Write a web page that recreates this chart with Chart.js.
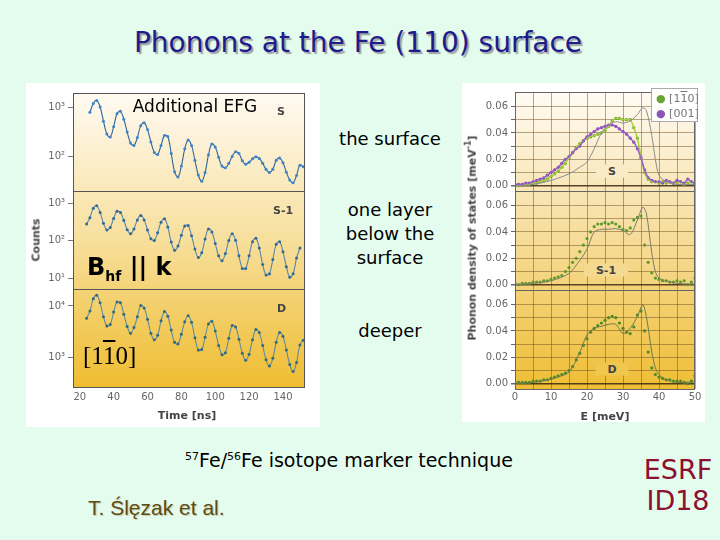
<!DOCTYPE html>
<html>
<head>
<meta charset="utf-8">
<script src="https://cdn.jsdelivr.net/npm/chart.js@4.4.1/dist/chart.umd.min.js"></script>
<style>
  body { margin: 0; width: 720px; height: 540px; background: #e4fcee; position: relative; overflow: hidden; font-family: "DejaVu Sans", sans-serif; }
  .abs { position: absolute; white-space: nowrap; }
  .c { transform: translate(-50%, -50%); }
  .box { background: #fff; }
  .note { font-size: 18px; color: #000; }
  .tag { font-size: 11px; font-weight: bold; color: #444; }
  .rot { transform: translate(-50%, -50%) rotate(-90deg); }
  canvas { position: absolute; }
</style>
</head>
<body>
<div class="abs box" style="left:26px;top:83px;width:294px;height:344px;"></div>
<div class="abs box" style="left:462px;top:83px;width:243px;height:339px;"></div>
<canvas id="beatChart" width="294" height="344" style="left:26px;top:83px;"></canvas>
<canvas id="dosChart" width="243" height="339" style="left:462px;top:83px;"></canvas>

<div class="abs c" style="left:358px;top:42px;font-size:28px;color:#1c1c8c;text-shadow:2px 2px 1px #a0a0a0;">Phonons at the Fe (110) surface</div>

<div class="abs c note" style="left:195px;top:106px;font-size:17px;">Additional EFG</div>
<div class="abs c note" style="left:390px;top:138px;">the surface</div>
<div class="abs c note" style="left:390px;top:234px;text-align:center;line-height:24px;">one layer<br>below the<br>surface</div>
<div class="abs c note" style="left:390px;top:330px;">deeper</div>
<div class="abs" style="left:87px;top:253px;font-size:24px;font-weight:bold;color:#000;">B<sub style="font-size:14px;">hf</sub> || k</div>
<div class="abs" style="left:83px;top:342px;font-size:25px;font-family:'Liberation Serif',serif;color:#000;">[1<span style="text-decoration:overline;">1</span>0]</div>

<div class="abs tag" style="left:277px;top:105px;">S</div>
<div class="abs tag" style="left:273px;top:204px;">S-1</div>
<div class="abs tag" style="left:277px;top:302px;">D</div>
<div class="abs c tag" style="left:612px;top:171px;background:#f8ebc6;padding:0 12px;">S</div>
<div class="abs c tag" style="left:606px;top:270px;background:#f4da90;padding:0 12px;">S-1</div>
<div class="abs c tag" style="left:612px;top:369px;background:#f0c850;padding:0 12px;">D</div>

<div class="abs c tag rot" style="left:36px;top:240px;">Counts</div>
<div class="abs c tag" style="left:187px;top:415px;">Time [ns]</div>
<div class="abs c tag rot" style="left:471px;top:238px;">Phonon density of states [meV<sup style="font-size:8px;">-1</sup>]</div>
<div class="abs c tag" style="left:605px;top:416px;">E [meV]</div>

<div class="abs" style="left:651px;top:88px;width:47px;height:34px;background:#fff;border:1px solid #aaa;font-size:11px;color:#777;line-height:15px;padding:2px 0 0 4px;box-sizing:border-box;">
  <span style="color:#6aa534;">&#9679;</span> [1<span style="text-decoration:overline;">1</span>0]<br>
  <span style="color:#8a55b5;">&#9679;</span> [001]
</div>

<div class="abs c" style="left:349px;top:460px;font-size:19px;color:#000;"><sup style="font-size:11px;">57</sup>Fe/<sup style="font-size:11px;">56</sup>Fe isotope marker technique</div>
<div class="abs" style="left:88px;top:496px;font-size:21px;font-family:'Liberation Sans',sans-serif;color:#5c4c14;text-shadow:1px 1px 1px #c8c8a8;">T. Ślęzak et al.</div>
<div class="abs c" style="left:678px;top:469px;font-size:27px;color:#8c1030;">ESRF</div>
<div class="abs c" style="left:678px;top:500px;font-size:27px;color:#8c1030;">ID18</div>

<script>
// time axis of the nuclear forward scattering spectra (ns)
const timeNs = [24, 26, 28, 30, 32, 34, 36, 38, 40, 42, 44, 46, 48, 50, 52, 54, 56, 58, 60, 62, 64,
  66, 68, 70, 72, 74, 76, 78, 80, 82, 84, 86, 88, 90, 92, 94, 96, 98, 100, 102, 104, 106, 108, 110,
  112, 114, 116, 118, 120, 122, 124, 126, 128, 130, 132, 134, 136, 138, 140, 142, 144, 146, 148, 150, 152];

// counts, surface layer (S)
const countsS = [null, 794, 1200, 1380, 1020, 525, 288, 251, 407, 741, 832, 575, 316, 191, 170, 245, 427,
  490, 355, 200, 123, 112, 170, 269, 257, 117, 50, 39, 65, 145, 219, 170, 85, 43, 32, 48, 110, 182,
  158, 98, 65, 60, 74, 102, 126, 117, 83, 71, 78, 91, 100, 93, 74, 56, 48, 56, 85, 95, 76, 49, 34, 30, 42, 68, 63];

// counts, one layer below (S-1)
const countsS1 = [275, 407, 724, 851, 562, 288, 191, 224, 389, 603, 562, 347, 195, 151, 204, 355, 468,
  355, 191, 112, 100, 162, 309, 380, 229, 91, 55, 71, 138, 245, 251, 135, 59, 35, 47, 110, 204, 170,
  83, 39, 29, 45, 100, 151, 102, 39, 18, 18, 39, 93, 115, 63, 23, 12, 13, 31, 79, 93, 50, 20, 10.5, 13, 34, 63, null];

// counts, deeper layers (D)
const countsD = [5750, 7940, 13800, 16200, 11500, 6170, 4070, 4370, 7590, 12000, 11500, 6920, 3980, 2950,
  3800, 6170, 10200, 9120, 5500, 2950, 2190, 2690, 5130, 7760, 6310, 3390, 1950, 1820, 2820, 4900, 6460,
  4790, 2400, 1380, 1410, 2450, 4470, 5010, 3240, 1700, 1120, 1230, 2340, 4170, 3890, 2240, 1200, 871,
  1150, 2190, 3470, 3020, 1700, 891, 676, 955, 1950, 3020, 2570, 1380, 724, 525, 794, 1740, 2140];

const timeTicks = [20, 40, 60, 80, 100, 120, 140];
const countTicksS = [100, 1000];
const countTicksS1 = [10, 100, 1000];
const countTicksD = [1000, 10000];

// phonon density of states (meV^-1) against energy (meV)
const energyMeV = [0, 1, 2, 3, 4, 5, 6, 7, 8, 9, 10, 11, 12, 13, 14, 15, 16, 17, 18, 19, 20, 21, 22, 23, 24, 25,
  26, 27, 28, 29, 30, 31, 32, 33, 34, 35, 36, 37, 38, 39, 40, 41, 42, 43, 44, 45, 46, 47, 48, 49, 50];

const dosS110 = [0.000, 0.000, 0.001, 0.001, 0.001, 0.002, 0.002, 0.003, 0.004, 0.005, 0.007, 0.009, 0.011,
  0.014, 0.017, 0.021, 0.025, 0.029, 0.032, 0.034, 0.036, 0.037, 0.038, 0.039, 0.040, 0.042, 0.045, 0.049,
  0.051, 0.051, 0.050, 0.050, 0.050, 0.044, 0.036, 0.022, 0.010, 0.005, 0.003, 0.003, 0.002, 0.003, 0.002,
  0.003, 0.002, 0.002, 0.003, 0.001, 0.002, 0.003, 0.002];

const dosS001 = [0.001, 0.001, 0.001, 0.002, 0.002, 0.003, 0.004, 0.005, 0.006, 0.008, 0.010, 0.012, 0.014,
  0.017, 0.020, 0.022, 0.025, 0.028, 0.030, 0.034, 0.037, 0.039, 0.041, 0.043, 0.044, 0.045, 0.046, 0.046,
  0.045, 0.043, 0.041, 0.039, 0.036, 0.033, 0.028, 0.021, 0.012, 0.006, 0.004, 0.003, 0.003, 0.002, 0.004,
  0.003, 0.002, 0.004, 0.003, 0.002, 0.005, 0.003, 0.002];

const dosS1 = [0.001, 0.000, 0.001, 0.001, 0.001, 0.002, 0.002, 0.002, 0.003, 0.003, 0.004, 0.005, 0.006,
  0.007, 0.010, 0.013, 0.017, 0.020, 0.025, 0.030, 0.035, 0.040, 0.044, 0.046, 0.046, 0.047, 0.046, 0.047,
  0.046, 0.044, 0.042, 0.041, 0.043, 0.049, 0.051, 0.052, 0.030, 0.017, 0.009, 0.005, 0.004, 0.003, 0.003,
  0.002, 0.002, 0.003, 0.002, 0.003, 0.000, 0.002, 0.005];

const dosD = [0.001, 0.001, 0.001, 0.001, 0.001, 0.002, 0.002, 0.002, 0.003, 0.003, 0.004, 0.005, 0.006,
  0.007, 0.008, 0.010, 0.013, 0.018, 0.023, 0.029, 0.034, 0.039, 0.042, 0.044, 0.046, 0.048, 0.050, 0.051,
  0.050, 0.046, 0.042, 0.039, 0.038, 0.043, 0.052, 0.055, 0.040, 0.024, 0.012, 0.007, 0.005, 0.004, 0.003,
  0.003, 0.002, 0.002, 0.002, 0.001, 0.000, 0.002, 0.006];

// calculated DOS (thin grey lines)
const theoryE = [0, 5, 10, 15, 18, 20, 22, 24, 26, 28, 30, 32, 34, 35.5, 36.5, 38, 39, 40, 42, 45, 50];
const theoryS = [0, 0.001, 0.004, 0.009, 0.014, 0.018, 0.028, 0.040, 0.046, 0.0485, 0.0475, 0.049, 0.054,
  0.059, 0.057, 0.038, 0.020, 0.008, 0.003, 0.001, 0.001];
const theoryS1 = [0, 0.001, 0.003, 0.0086, 0.0185, 0.027, 0.040, 0.042, 0.042, 0.0425, 0.041, 0.038, 0.049,
  0.0588, 0.054, 0.024, 0.010, 0.005, 0.003, 0.001, 0.0005];
const theoryD = [0, 0.001, 0.0035, 0.009, 0.024, 0.037, 0.042, 0.0435, 0.045, 0.045, 0.038, 0.042, 0.051,
  0.0598, 0.0505, 0.024, 0.012, 0.007, 0.003, 0.001, 0.0015];

const energyTicks = [0, 10, 20, 30, 40, 50];
const energyGrid = [0, 5, 10, 15, 20, 25, 30, 35, 40, 45, 50];
const dosTicks = [0, 0.02, 0.04, 0.06];
const dosGrid = [0, 0.01, 0.02, 0.03, 0.04, 0.05, 0.06];

const sup = { 1: '\u00b9', 2: '\u00b2', 3: '\u00b3', 4: '\u2074' };

function pts(xs, ys) {
  return xs.map((x, i) => ({ x: x, y: ys[i] }));
}

// gradient behind the plot area and a frame round every stacked panel
const panelBg = {
  id: 'panelBg',
  beforeDraw(chart, args, opts) {
    const { ctx, chartArea: a } = chart;
    const g = ctx.createLinearGradient(0, a.top, 0, a.bottom);
    g.addColorStop(0, opts.top);
    g.addColorStop(0.5, opts.mid);
    g.addColorStop(1, opts.bottom);
    ctx.save();
    ctx.fillStyle = g;
    ctx.fillRect(a.left, a.top, a.right - a.left, a.bottom - a.top);
    ctx.restore();
  },
  afterDraw(chart, args, opts) {
    const { ctx, chartArea: a } = chart;
    ctx.save();
    ctx.strokeStyle = opts.frame;
    ctx.lineWidth = 1;
    Object.values(chart.scales).filter(s => s.axis === 'y').forEach(s => {
      ctx.strokeRect(Math.round(a.left) + 0.5, Math.round(s.top) + 0.5,
        Math.round(a.right - a.left) - 1, Math.round(s.bottom - s.top));
    });
    ctx.restore();
  }
};

const tickFont = { family: 'DejaVu Sans', size: 10 };

function logAxis(ticks, min, max) {
  return {
    type: 'logarithmic',
    position: 'left',
    stack: 'beats',
    stackWeight: 1,
    min: min,
    max: max,
    afterBuildTicks: s => { s.ticks = ticks.map(v => ({ value: v })); },
    afterFit: s => { s.width = 47; },
    ticks: {
      font: tickFont, color: '#666', padding: 3, autoSkip: false,
      callback: v => '10' + sup[Math.round(Math.log10(v))]
    },
    grid: { drawOnChartArea: false, drawTicks: true, tickLength: 5, color: '#777' },
    border: { display: false }
  };
}

function beatSet(data, yId, line, dot) {
  return {
    data: data, yAxisID: yId, borderColor: line, borderWidth: 1.1,
    pointRadius: 1.5, pointBackgroundColor: dot, pointBorderWidth: 0,
    tension: 0.4, spanGaps: true
  };
}

// stacked axes are laid out bottom-up, so the deepest layer is listed first
new Chart(document.getElementById('beatChart'), {
  type: 'line',
  data: {
    datasets: [
      beatSet(pts(timeNs, countsS), 'yS', '#2f6498', '#3b86c8'),
      beatSet(pts(timeNs, countsS1), 'yS1', '#5b86a8', '#2e6a9a'),
      beatSet(pts(timeNs, countsD), 'yD', '#5f8a9c', '#2f6a80')
    ]
  },
  options: {
    responsive: false,
    animation: false,
    events: [],
    layout: { padding: { left: 0, top: 10, right: 15, bottom: 0 } },
    plugins: {
      legend: { display: false },
      tooltip: { enabled: false },
      panelBg: { top: '#fffaf2', mid: '#f7df9c', bottom: '#efbd30', frame: '#555' }
    },
    scales: {
      x: {
        type: 'linear', min: 16, max: 153,
        afterBuildTicks: s => { s.ticks = timeTicks.map(v => ({ value: v })); },
        afterFit: s => { s.height = 40; },
        ticks: { font: tickFont, color: '#666', padding: 4, autoSkip: false, maxRotation: 0 },
        grid: { drawOnChartArea: false, drawTicks: false },
        border: { display: false }
      },
      yD: logAxis(countTicksD, 263, 21400),
      yS1: logAxis(countTicksS1, 5.1, 2090),
      yS: logAxis(countTicksS, 20.4, 1950)
    }
  },
  plugins: [panelBg]
});

function dosAxis() {
  return {
    type: 'linear',
    position: 'left',
    stack: 'dos',
    stackWeight: 1,
    min: -0.004,
    max: 0.071,
    afterBuildTicks: s => { s.ticks = dosGrid.map(v => ({ value: v })); },
    afterFit: s => { s.width = 53; },
    ticks: {
      font: tickFont, color: '#666', padding: 3, autoSkip: false,
      callback: v => dosTicks.includes(v) ? v.toFixed(2) : ''
    },
    grid: {
      color: c => c.tick && c.tick.value === 0 ? 'rgba(60,40,15,0.85)' : 'rgba(110,80,30,0.5)',
      lineWidth: c => c.tick && c.tick.value === 0 ? 1.5 : 1,
      tickLength: 4, tickColor: '#666'
    },
    border: { display: false }
  };
}

function dotSet(data, yId, dot) {
  return {
    data: data, yAxisID: yId, showLine: false,
    pointRadius: 1.6, pointBackgroundColor: dot, pointBorderWidth: 0
  };
}

function lineSet(data, yId, color, width) {
  return {
    data: data, yAxisID: yId, borderColor: color, borderWidth: width,
    pointRadius: 0, tension: 0.3, fill: false
  };
}

new Chart(document.getElementById('dosChart'), {
  type: 'line',
  data: {
    datasets: [
      lineSet(pts(theoryE, theoryS), 'yS', '#8c8c8c', 1),
      lineSet(pts(energyMeV, dosS001), 'yS', '#9a5ccc', 1.5),
      lineSet(pts(energyMeV, dosS110), 'yS', '#a6d33a', 1.5),
      dotSet(pts(energyMeV, dosS001), 'yS', '#7e4aa8'),
      dotSet(pts(energyMeV, dosS110), 'yS', '#5f9a2c'),
      lineSet(pts(theoryE, theoryS1), 'yS1', '#7d7d6a', 1),
      dotSet(pts(energyMeV, dosS1), 'yS1', '#5f9a2c'),
      lineSet(pts(theoryE, theoryD), 'yD', '#6f7a4a', 1),
      dotSet(pts(energyMeV, dosD), 'yD', '#4f8a2a')
    ]
  },
  options: {
    responsive: false,
    animation: false,
    events: [],
    layout: { padding: { left: 0, top: 5, right: 10, bottom: 0 } },
    plugins: {
      legend: { display: false },
      tooltip: { enabled: false },
      panelBg: { top: '#fffbf4', mid: '#f6dc98', bottom: '#efbe35', frame: '#666' }
    },
    scales: {
      x: {
        type: 'linear', min: 0, max: 50,
        afterBuildTicks: s => { s.ticks = energyGrid.map(v => ({ value: v })); },
        afterFit: s => { s.height = 33; },
        ticks: {
          font: tickFont, color: '#666', padding: 2, autoSkip: false, maxRotation: 0,
          callback: v => energyTicks.includes(v) ? String(v) : ''
        },
        grid: { color: 'rgba(110,80,30,0.5)', drawTicks: false },
        border: { display: false }
      },
      yD: dosAxis(),
      yS1: dosAxis(),
      yS: dosAxis()
    }
  },
  plugins: [panelBg]
});
</script>
</body>
</html>
